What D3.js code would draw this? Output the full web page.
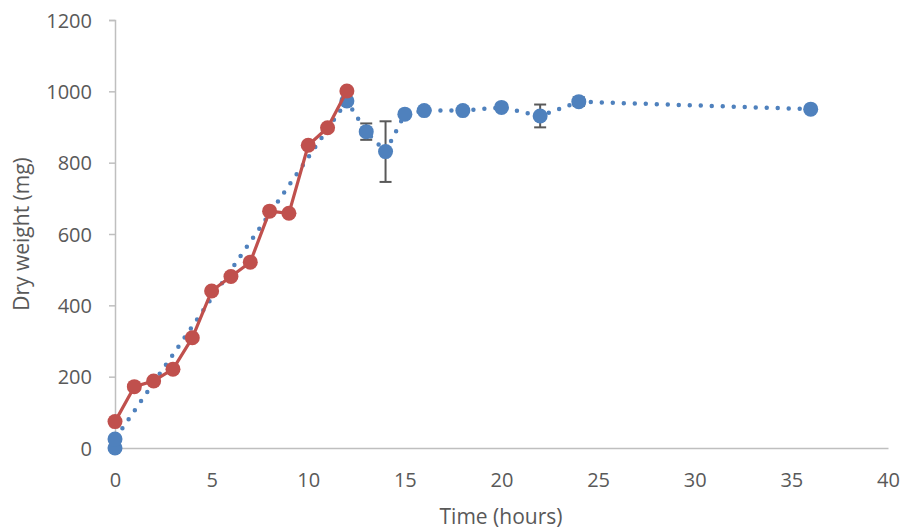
<!DOCTYPE html>
<html><head><meta charset="utf-8">
<script src="https://cdn.jsdelivr.net/npm/d3@7/dist/d3.min.js"></script>
<style>
body{margin:0;background:#fff;}
text{font-family:"Open Sans",sans-serif;fill:#595959;}
</style></head>
<body><svg id="c" width="902" height="531"></svg>
<script>
// Red series (solid line)
const redTime = [0,1,2,3,4,5,6,7,8,9,10,11,12];
const redWeight = [74,172,188,221,309,440,481,521,664,658,849,898,1001];
// Blue series (dotted line, with error bars)
const blueTime = [0,0,12,13,14,15,16,18,20,22,24,36];
const blueWeight = [0,25,973,887,831,936,946,946,955,931,971,950];
const blueError = [0,0,0,23,85,0,0,0,0,32,12,0];
const xTicks = [0,5,10,15,20,25,30,35,40];
const yTicks = [0,200,400,600,800,1000,1200];

const svg = d3.select("#c");
const m = {l:115, r:888, t:20, b:448};
const x = d3.scaleLinear().domain([0,40]).range([m.l, m.r]);
const y = d3.scaleLinear().domain([0,1200]).range([m.b, m.t]);

const red = "#C0504D", blue = "#4F81BD";

// axes
const yAx = svg.append("g").attr("transform",`translate(${m.l},0)`)
  .call(d3.axisLeft(y).tickValues(yTicks).tickSize(6).tickPadding(17).tickFormat(d3.format("d")));
const xAx = svg.append("g").attr("transform",`translate(0,${m.b})`)
  .call(d3.axisBottom(x).tickValues(xTicks).tickSize(0).tickPadding(25).tickFormat(d3.format("d")));
[yAx,xAx].forEach(g=>{
  g.select(".domain").attr("stroke","#BFBFBF").attr("stroke-width",1.5);
  g.selectAll(".tick line").attr("stroke","#BFBFBF").attr("stroke-width",1.5);
  g.selectAll(".tick text").attr("fill","#595959").style("font-size","20px").style("font-family","'Open Sans',sans-serif");
});
yAx.selectAll(".tick text").attr("dy","0.36em");

const blueData = blueTime.map((t,i)=>({t, w:blueWeight[i], e:blueError[i]}));
const redData = redTime.map((t,i)=>({t, w:redWeight[i]}));

// blue dotted line
svg.append("path").datum(blueData)
  .attr("d", d3.line().x(d=>x(d.t)).y(d=>y(d.w)))
  .attr("fill","none").attr("stroke",blue).attr("stroke-width",4.5)
  .attr("stroke-linecap","round").attr("stroke-dasharray","0 11");

// error bars
const eb = svg.append("g").attr("stroke","#595959").attr("stroke-width",2);
blueData.filter(d=>d.e>0).forEach(d=>{
  eb.append("line").attr("x1",x(d.t)).attr("x2",x(d.t)).attr("y1",y(d.w-d.e)).attr("y2",y(d.w+d.e));
  [d.w-d.e,d.w+d.e].forEach(v=>eb.append("line").attr("x1",x(d.t)-6).attr("x2",x(d.t)+6).attr("y1",y(v)).attr("y2",y(v)));
});

// blue markers
svg.append("g").selectAll("circle").data(blueData).join("circle")
  .attr("cx",d=>x(d.t)).attr("cy",d=>y(d.w)).attr("r",7.5).attr("fill",blue);

// red line + markers
svg.append("path").datum(redData)
  .attr("d", d3.line().x(d=>x(d.t)).y(d=>y(d.w)))
  .attr("fill","none").attr("stroke",red).attr("stroke-width",3.2).attr("stroke-linejoin","round");
svg.append("g").selectAll("circle").data(redData).join("circle")
  .attr("cx",d=>x(d.t)).attr("cy",d=>y(d.w)).attr("r",7.5).attr("fill",red);

// titles
svg.append("text").attr("x",501).attr("y",524).attr("text-anchor","middle")
  .style("font-size","21px").text("Time (hours)");
svg.append("text").attr("transform",`translate(29,${(m.t+m.b)/2}) rotate(-90)`).attr("text-anchor","middle")
  .style("font-size","21px").text("Dry weight (mg)");
</script></body></html>
